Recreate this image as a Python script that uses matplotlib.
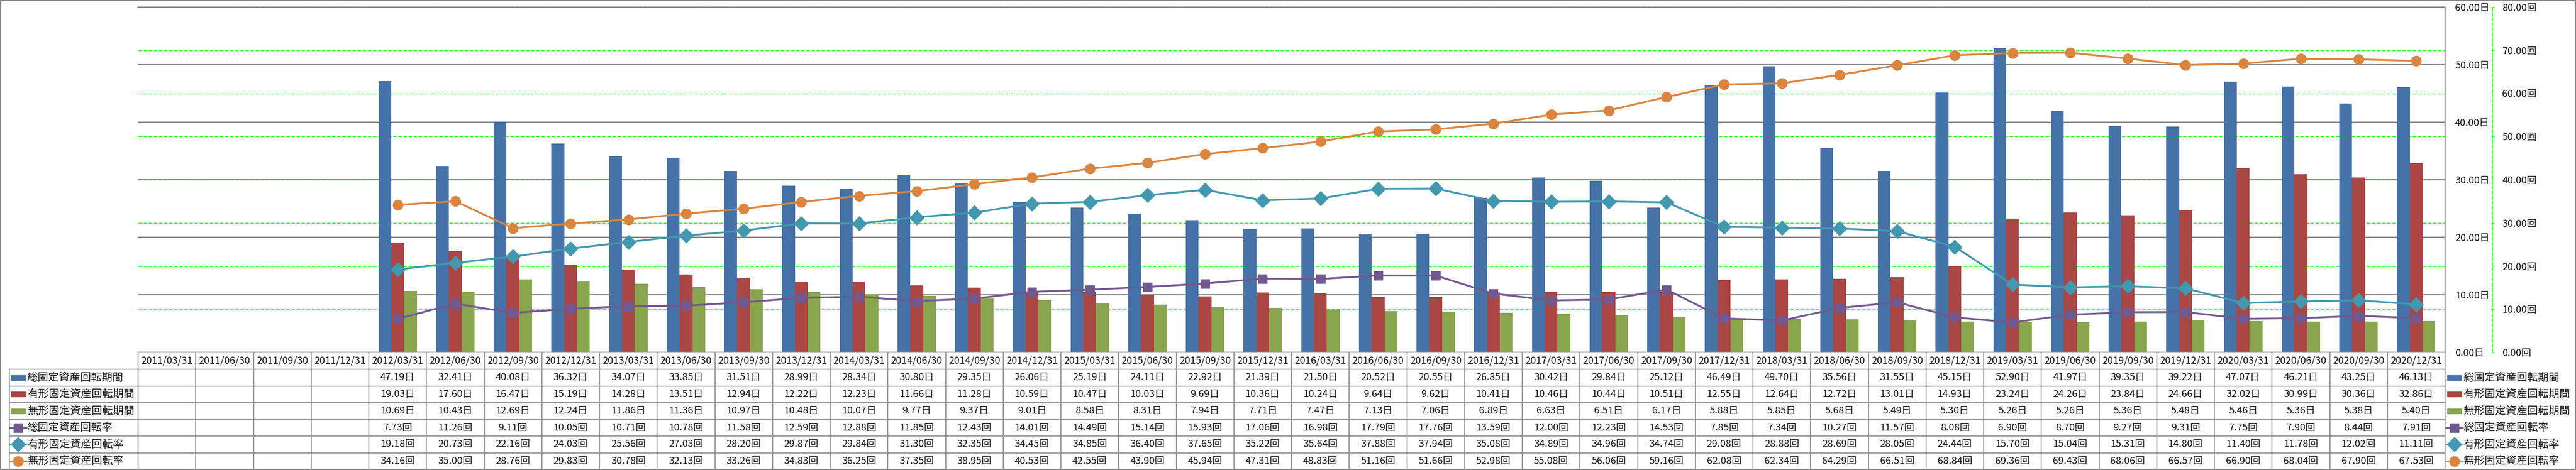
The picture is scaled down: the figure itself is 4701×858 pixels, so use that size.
import numpy as np
import matplotlib.pyplot as plt
from matplotlib.transforms import blended_transform_factory
from matplotlib.lines import Line2D
from matplotlib.patches import Rectangle

plt.rcParams['font.family'] = ['Noto Sans CJK JP', 'DejaVu Sans']

nan = np.nan

dates = ['2011/03/31', '2011/06/30', '2011/09/30', '2011/12/31',
         '2012/03/31', '2012/06/30', '2012/09/30', '2012/12/31',
         '2013/03/31', '2013/06/30', '2013/09/30', '2013/12/31',
         '2014/03/31', '2014/06/30', '2014/09/30', '2014/12/31',
         '2015/03/31', '2015/06/30', '2015/09/30', '2015/12/31',
         '2016/03/31', '2016/06/30', '2016/09/30', '2016/12/31',
         '2017/03/31', '2017/06/30', '2017/09/30', '2017/12/31',
         '2018/03/31', '2018/06/30', '2018/09/30', '2018/12/31',
         '2019/03/31', '2019/06/30', '2019/09/30', '2019/12/31',
         '2020/03/31', '2020/06/30', '2020/09/30', '2020/12/31']

# 回転期間 (日) - bars, left axis
total_days = [nan, nan, nan, nan,
              47.19, 32.41, 40.08, 36.32, 34.07, 33.85, 31.51, 28.99,
              28.34, 30.80, 29.35, 26.06, 25.19, 24.11, 22.92, 21.39,
              21.50, 20.52, 20.55, 26.85, 30.42, 29.84, 25.12, 46.49,
              49.70, 35.56, 31.55, 45.15, 52.90, 41.97, 39.35, 39.22,
              47.07, 46.21, 43.25, 46.13]
tangible_days = [nan, nan, nan, nan,
                 19.03, 17.60, 16.47, 15.19, 14.28, 13.51, 12.94, 12.22,
                 12.23, 11.66, 11.28, 10.59, 10.47, 10.03, 9.69, 10.36,
                 10.24, 9.64, 9.62, 10.41, 10.46, 10.44, 10.51, 12.55,
                 12.64, 12.72, 13.01, 14.93, 23.24, 24.26, 23.84, 24.66,
                 32.02, 30.99, 30.36, 32.86]
intangible_days = [nan, nan, nan, nan,
                   10.69, 10.43, 12.69, 12.24, 11.86, 11.36, 10.97, 10.48,
                   10.07, 9.77, 9.37, 9.01, 8.58, 8.31, 7.94, 7.71,
                   7.47, 7.13, 7.06, 6.89, 6.63, 6.51, 6.17, 5.88,
                   5.85, 5.68, 5.49, 5.30, 5.26, 5.26, 5.36, 5.48,
                   5.46, 5.36, 5.38, 5.40]

# 回転率 (回) - lines, right axis
total_rate = [nan, nan, nan, nan,
              7.73, 11.26, 9.11, 10.05, 10.71, 10.78, 11.58, 12.59,
              12.88, 11.85, 12.43, 14.01, 14.49, 15.14, 15.93, 17.06,
              16.98, 17.79, 17.76, 13.59, 12.00, 12.23, 14.53, 7.85,
              7.34, 10.27, 11.57, 8.08, 6.90, 8.70, 9.27, 9.31,
              7.75, 7.90, 8.44, 7.91]
tangible_rate = [nan, nan, nan, nan,
                 19.18, 20.73, 22.16, 24.03, 25.56, 27.03, 28.20, 29.87,
                 29.84, 31.30, 32.35, 34.45, 34.85, 36.40, 37.65, 35.22,
                 35.64, 37.88, 37.94, 35.08, 34.89, 34.96, 34.74, 29.08,
                 28.88, 28.69, 28.05, 24.44, 15.70, 15.04, 15.31, 14.80,
                 11.40, 11.78, 12.02, 11.11]
intangible_rate = [nan, nan, nan, nan,
                   34.16, 35.00, 28.76, 29.83, 30.78, 32.13, 33.26, 34.83,
                   36.25, 37.35, 38.95, 40.53, 42.55, 43.90, 45.94, 47.31,
                   48.83, 51.16, 51.66, 52.98, 55.08, 56.06, 59.16, 62.08,
                   62.34, 64.29, 66.51, 68.84, 69.36, 69.43, 68.06, 66.57,
                   66.90, 68.04, 67.90, 67.53]

names = ['総固定資産回転期間', '有形固定資産回転期間', '無形固定資産回転期間',
         '総固定資産回転率', '有形固定資産回転率', '無形固定資産回転率']
colors = ['#4572A7', '#AA4643', '#89A54E', '#71588F', '#4198AF', '#DB843D']
markers = [None, None, None, 's', 'D', 'o']
msizes = [0, 0, 0, 12, 13, 13]
units = ['日', '日', '日', '回', '回', '回']
series = [total_days, tangible_days, intangible_days,
          total_rate, tangible_rate, intangible_rate]

W, H = 4701, 858
fig = plt.figure(figsize=(W / 100, H / 100), dpi=100)


def fx(px):
    return px / W


def fy(py):
    return 1 - py / H


rect = [fx(252), fy(643), fx(4462) - fx(252), fy(13) - fy(643)]
ax = fig.add_axes(rect)
ax_g = ax.twinx()
ax_l = ax.twinx()
ax_g.set_zorder(0)
ax.set_zorder(1)
ax_l.set_zorder(2)
ax.patch.set_visible(False)
ax_l.patch.set_visible(False)

x = np.arange(len(dates))
bw = 0.222

# bars
for k in range(3):
    ax.bar(x + (k - 1) * bw, series[k], width=bw, color=colors[k], zorder=2)
ax.set_xlim(-0.5, len(dates) - 0.5)
ax.set_ylim(0, 60)
ax.set_yticks(range(0, 61, 10))
ax.set_yticklabels([f'{v:.2f}日' for v in range(0, 61, 10)])
ax.yaxis.tick_right()
ax.tick_params(axis='y', length=0, pad=13, labelsize=13, labelcolor='#111111')
ax.set_xticks([])
ax.yaxis.grid(True, color='#868686', lw=1.5)
ax.set_axisbelow(True)
for s in ['left']:
    ax.spines[s].set_visible(False)
for s in ['top', 'right', 'bottom']:
    ax.spines[s].set_color('#868686')
    ax.spines[s].set_linewidth(1.5)

# green secondary grid / axis
ax_g.set_ylim(0, 80)
ax_g.set_yticks(range(0, 81, 10))
ax_g.set_yticklabels([f'{v:.2f}回' for v in range(0, 81, 10)])
ax_g.yaxis.grid(True, color='#00FF00', ls=(0, (4.5, 2.2)), lw=1)
for s in ['left', 'top', 'bottom']:
    ax_g.spines[s].set_visible(False)
ax_g.spines['right'].set_position(('outward', 62))
ax_g.spines['right'].set_color('#00FF00')
ax_g.spines['right'].set_linestyle((0, (4.5, 2.2)))
ax_g.spines['right'].set_linewidth(1)
ax_g.tick_params(axis='y', length=3, direction='out', color='#00FF00',
                 pad=10, labelsize=13, labelcolor='#111111')

# lines
ax_l.set_ylim(0, 80)
for k in range(3, 6):
    ax_l.plot(x, series[k], color=colors[k], lw=2.4, marker=markers[k],
              ms=msizes[k], mec=colors[k], mfc=colors[k], zorder=3)
ax_l.set_yticks([])
for s in ax_l.spines.values():
    s.set_visible(False)

# data table
bt = blended_transform_factory(ax.transData, fig.transFigure)
row_edges = [643, 674, 704.5, 735, 765.5, 796, 826.5, 857]
grid_c = '#888888'

for i in range(len(dates) + 1):
    ax.plot([i - 0.5, i - 0.5], [fy(643), fy(857)], transform=bt,
            color=grid_c, lw=1.2, clip_on=False)
for yy in row_edges[1:-1]:
    fig.add_artist(Line2D([fx(17), fx(4462)], [fy(yy), fy(yy)],
                          color=grid_c, lw=1.2))
fig.add_artist(Line2D([fx(17), fx(17)], [fy(674), fy(857)],
                      color=grid_c, lw=1.2))

hc = (row_edges[0] + row_edges[1]) / 2
for i, d in enumerate(dates):
    ax.text(i, fy(hc), d, transform=bt, ha='center', va='center',
            fontsize=13, color='#111111', clip_on=False)

for r in range(6):
    yc = (row_edges[r + 1] + row_edges[r + 2]) / 2
    for i, v in enumerate(series[r]):
        if not np.isnan(v):
            ax.text(i, fy(yc), f'{v:.2f}{units[r]}', transform=bt,
                    ha='center', va='center', fontsize=13, color='#111111',
                    clip_on=False)


def legend_key(x0, yc, k):
    if markers[k] is None:
        fig.add_artist(Rectangle((fx(x0), fy(yc + 4.5)), fx(26), 9 / H,
                                 color=colors[k], transform=fig.transFigure))
    else:
        fig.add_artist(Line2D([fx(x0 - 2), fx(x0 + 28)], [fy(yc), fy(yc)],
                              color=colors[k], lw=2.4))
        fig.add_artist(Line2D([fx(x0 + 13)], [fy(yc)], marker=markers[k],
                              ms=msizes[k], color=colors[k], lw=0))


for r in range(6):
    yc = (row_edges[r + 1] + row_edges[r + 2]) / 2
    legend_key(20, yc, r)
    fig.text(fx(50), fy(yc), names[r], ha='left', va='center',
             fontsize=14, color='#111111')
    legend_key(4466, yc, r)
    fig.text(fx(4495), fy(yc), names[r], ha='left', va='center',
             fontsize=14, color='#111111')

# outer border
fig.add_artist(Rectangle((fx(1), fy(857)), fx(4699), fy(1) - fy(857),
                         fill=False, ec='#888888', lw=1.5,
                         transform=fig.transFigure))

fig.savefig('out.png', dpi=100)
